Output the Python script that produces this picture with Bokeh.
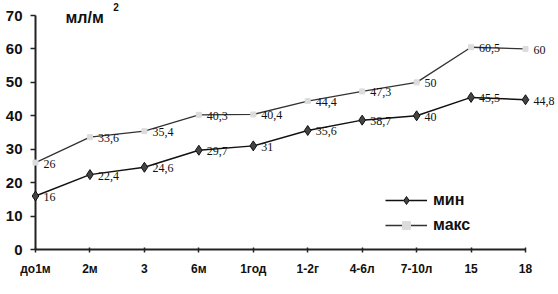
from bokeh.plotting import figure
from bokeh.models import Range1d, FixedTicker, Legend, LegendItem, Label, ColumnDataSource, LabelSet
from bokeh.embed import file_html
from bokeh.resources import INLINE

categories = ["до1м", "2м", "3", "6м", "1год", "1-2г", "4-6л", "7-10л", "15", "18"]
min_vals = [16, 22.4, 24.6, 29.7, 31, 35.6, 38.7, 40, 45.5, 44.8]
max_vals = [26, 33.6, 35.4, 40.3, 40.4, 44.4, 47.3, 50, 60.5, 60]
y_ticks = [0, 10, 20, 30, 40, 50, 60, 70]

def fmt(v):
    return ("%g" % v).replace(".", ",")

xs = list(range(len(categories)))
src_min = ColumnDataSource(dict(x=xs, y=min_vals, t=[fmt(v) for v in min_vals]))
src_max = ColumnDataSource(dict(x=xs, y=max_vals, t=[fmt(v) for v in max_vals]))

p = figure(width=558, height=294, output_backend="svg", toolbar_location=None,
           x_range=Range1d(-0.092, 9.606), y_range=Range1d(0, 74.49),
           min_border_left=30, min_border_right=0, min_border_top=0, min_border_bottom=45)
p.outline_line_color = None
p.grid.visible = False
p.background_fill_color = "white"

# x axis
p.xaxis.ticker = FixedTicker(ticks=xs)
p.xaxis.major_label_overrides = {i: c for i, c in enumerate(categories)}
p.xaxis.bounds = (0, 9)
p.xaxis.axis_line_width = 2
p.xaxis.axis_line_color = "#222"
p.xaxis.major_tick_line_width = 1.5
p.xaxis.major_tick_line_color = "#222"
p.xaxis.major_tick_in = 2
p.xaxis.major_tick_out = 3
p.xaxis.minor_tick_line_color = None
p.xaxis.major_label_standoff = 9
p.xaxis.major_label_text_font = "Liberation Sans"
p.xaxis.major_label_text_font_style = "bold"
p.xaxis.major_label_text_font_size = "12px"
p.xaxis.major_label_text_color = "#111"

# y axis (line drawn at x = first category)
p.yaxis.ticker = FixedTicker(ticks=y_ticks)
p.yaxis.axis_line_color = None
p.yaxis.major_tick_line_width = 1.5
p.yaxis.major_tick_line_color = "#222"
p.yaxis.major_tick_in = 5
p.yaxis.major_tick_out = 0
p.yaxis.minor_tick_line_color = None
p.yaxis.major_label_standoff = 8
p.yaxis.major_label_text_font = "Liberation Sans"
p.yaxis.major_label_text_font_style = "bold"
p.yaxis.major_label_text_font_size = "15px"
p.yaxis.major_label_text_color = "#111"
p.segment(x0=[xs[0]], y0=[y_ticks[0]], x1=[xs[0]], y1=[y_ticks[-1]],
          line_color="#222", line_width=2)

# series
l_min = p.line("x", "y", source=src_min, line_color="#111", line_width=1.5)
m_min = p.scatter("x", "y", source=src_min, marker="diamond", size=10,
                  fill_color="#444", line_color="#111", line_width=1)
l_max = p.line("x", "y", source=src_max, line_color="#333", line_width=1.3)
m_max = p.scatter("x", "y", source=src_max, marker="square", size=5,
                  fill_color="#dcdcdc", line_color="#dcdcdc")

for src in (src_min, src_max):
    ls = LabelSet(x="x", y="y", text="t", source=src, x_offset=8, y_offset=-1,
                  text_baseline="middle", text_align="left",
                  text_font="Liberation Sans", text_font_size="12px", text_color="#111")
    p.add_layout(ls)

legend = Legend(items=[LegendItem(label="мин", renderers=[l_min, m_min]),
                       LegendItem(label="макс", renderers=[l_max, m_max])],
                location=(355, 14), glyph_width=42, glyph_height=20, spacing=5,
                padding=0, margin=0, label_standoff=6,
                label_text_font="Liberation Sans", label_text_font_style="bold",
                label_text_font_size="16px", label_text_color="#111",
                border_line_color=None, background_fill_alpha=0)
p.add_layout(legend)

p.add_layout(Label(x=0.55, y=69.4, text="мл/м", text_baseline="middle",
                   text_font="Liberation Sans", text_font_style="bold",
                   text_font_size="16px", text_color="#111"))
p.add_layout(Label(x=1.43, y=72.4, text="2", text_baseline="middle",
                   text_font="Liberation Sans", text_font_style="bold",
                   text_font_size="10px", text_color="#111"))

open("out.html", "w").write(file_html(p, INLINE))
